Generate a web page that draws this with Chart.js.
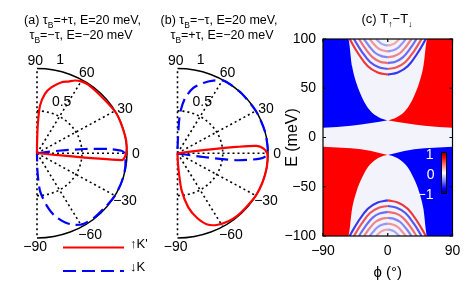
<!DOCTYPE html>
<html>
<head>
<title>Spin-valley transmission</title>
<script src="https://cdn.jsdelivr.net/npm/chart.js"></script>
<style>
  body { margin: 0; background: #fff; }
  #wrap { position: relative; width: 469px; height: 282px; }
  canvas { position: absolute; left: 0; top: 0; }
</style>
</head>
<body>
<div id="wrap">
  <canvas id="polarA" width="469" height="282"></canvas>
  <canvas id="polarB" width="469" height="282"></canvas>
  <canvas id="mapC" width="469" height="282"></canvas>
</div>
<script>
// ---- panel (a): incidence angle (deg) and transmission ----
const aRedTheta  = [-5, -4.9, -1.7, 4, 12, 28, 44, 55, 60, 64, 67.6, 71.9, 78.2, 82.8, 86.6, 88.6, 90, 90];
const aRedR      = [0, 0.944, 0.983, 0.999, 1.0, 1.0, 0.98, 0.99, 0.98, 0.955, 0.915, 0.882, 0.796, 0.706, 0.563, 0.325, 0.09, 0];
const aBlueTheta = [7, 7, 5.4, 3.6, 1.8, -0.5, -10, -20, -30, -40, -50, -58, -63.5, -69, -75, -80, -85.7, -88.6, -90];
const aBlueR     = [0, 0.24, 0.535, 0.794, 0.941, 0.978, 0.995, 1.0, 1.0, 0.99, 0.99, 0.98, 0.945, 0.876, 0.767, 0.63, 0.445, 0.21, 0];

// ---- panel (b) ----
const bRedTheta  = [7.2, 7.2, 6.5, 5.7, 3.4, -0.2, -10, -20, -30, -40, -48, -55, -63, -69, -74.4, -79.4, -84, -86, -88, -90];
const bRedR      = [0, 0.287, 0.658, 0.879, 0.95, 0.992, 1.0, 1.0, 1.0, 0.99, 0.99, 0.98, 0.95, 0.897, 0.787, 0.65, 0.443, 0.243, 0.1, 0];
const bBlueTheta = [-10.6, -10.6, -8.8, -7.2, -4, -1.4, 3.2, 14.7, 30, 45, 53.4, 59.4, 65.2, 71, 77.2, 82.7, 86.6, 88, 89.5, 90];
const bBlueR     = [0, 0.065, 0.288, 0.659, 0.914, 0.986, 0.998, 1.0, 1.0, 1.0, 1.0, 0.995, 0.944, 0.877, 0.79, 0.656, 0.474, 0.254, 0.06, 0];

const spokeAngles = [90, 60, 30, 0, -30, -60, -90];
const angleLabels = ['90', '60', '30', '0', '\u221230', '\u221260', '\u221290'];

// ---- panel (c): T_up - T_down over (phi, E) ----
const phiTicks = [-90, 0, 90];
const eTicks = [-100, -50, 0, 50, 100];
// upper band, E > 0 (top and bottom outline of each coloured region)
const uBlueTopPhi = [-90, -55, -49.5, -43.5, -36.5, -27.5, -16, -2.4, 0];
const uBlueTopE   = [100, 100, 72, 55, 42, 30, 22, 17.7, 17.5];
const uBlueLowPhi = [-90, -51, -23, 0];
const uBlueLowE   = [9.8, 12, 14.7, 17.5];
const uRedTopPhi  = [0, 2.4, 16, 27.5, 36.5, 43.5, 49.5, 55, 90];
const uRedTopE    = [17.5, 17.7, 22, 30, 42, 55, 72, 100, 100];
const uRedLowPhi  = [0, 23, 51, 90];
const uRedLowE    = [17.5, 14.7, 12, 9.8];
// lower band, E < 0
const lRedTopPhi  = [-90, -51, -23, 0];
const lRedTopE    = [-9.3, -11, -13.7, -17.8];
const lRedLowPhi  = [-90, -55, -49.5, -43.5, -36.5, -27.5, -16, -2.4, 0];
const lRedLowE    = [-100, -100, -72, -55, -42, -30, -22, -17.9, -17.8];
const lBlueTopPhi = [0, 23, 51, 90];
const lBlueTopE   = [-17.8, -13.7, -11, -9.3];
const lBlueLowPhi = [0, 2.4, 16, 27.5, 36.5, 43.5, 49.5, 55, 90];
const lBlueLowE   = [-17.8, -17.9, -22, -30, -42, -55, -72, -100, -100];
// interference fringes, |phi| and |E| along each arc (same in the four quadrants)
const arcPhi = [
  [0, 14, 27.7, 41.5, 53],
  [0, 12.4, 24.6, 36.8, 47],
  [0, 10.6, 20.9, 31.3, 40],
  [0, 8.7, 17.3, 25.8, 33],
  [0, 6.6, 13.1, 19.6, 25],
  [0, 4.2, 8.4, 12.5, 16]
];
const arcE = [
  [63.8, 66, 72.3, 85.8, 100],
  [69.5, 71.4, 76.7, 88, 100],
  [75.5, 77, 81.3, 90.4, 100],
  [81.5, 82.6, 85.8, 92.7, 100],
  [87.5, 88.3, 90.4, 95.1, 100],
  [93.5, 93.9, 95, 97.5, 100]
];
const arcAlpha = [0.85, 0.7, 0.6, 0.5, 0.42, 0.35];

const FONT = '"Liberation Sans", Arial, Helvetica, sans-serif';
const RED = '#ff0000';
const BLUE = '#0000ff';

function polarPoints(theta, r) {
  return theta.map((t, i) => ({
    x: r[i] * Math.cos(t * Math.PI / 180),
    y: r[i] * Math.sin(t * Math.PI / 180)
  }));
}

function zip(xs, ys) {
  return xs.map((v, i) => ({ x: v, y: ys[i] }));
}

// text with subscripts: parts = [[text, isSub], ...]
function drawRich(ctx, parts, cx, baseline, size) {
  let w = 0;
  parts.forEach(p => {
    ctx.font = (p[1] ? size * 0.68 : size) + 'px ' + FONT;
    w += ctx.measureText(p[0]).width;
  });
  let x = cx - w / 2;
  ctx.textAlign = 'left';
  ctx.textBaseline = 'alphabetic';
  parts.forEach(p => {
    const s = p[1] ? size * 0.68 : size;
    ctx.font = s + 'px ' + FONT;
    ctx.fillText(p[0], x, baseline + (p[1] ? size * 0.32 : 0));
    x += ctx.measureText(p[0]).width;
  });
}

// polar grid: dotted spokes, dotted r = 0.5, solid r = 1
const polarGrid = {
  id: 'polarGrid',
  beforeDatasetsDraw(chart) {
    const { ctx, scales: { x, y } } = chart;
    const cx = x.getPixelForValue(0), cy = y.getPixelForValue(0);
    const rx = x.getPixelForValue(1) - cx, ry = cy - y.getPixelForValue(1);
    ctx.save();
    ctx.strokeStyle = '#000';
    ctx.lineWidth = 1.6;
    ctx.setLineDash([2, 3]);
    spokeAngles.forEach(a => {
      const t = a * Math.PI / 180;
      ctx.beginPath();
      ctx.moveTo(cx, cy);
      ctx.lineTo(cx + rx * Math.cos(t), cy - ry * Math.sin(t));
      ctx.stroke();
    });
    ctx.beginPath();
    ctx.ellipse(cx, cy, rx * 0.5, ry * 0.5, 0, -Math.PI / 2, Math.PI / 2);
    ctx.stroke();
    ctx.setLineDash([]);
    ctx.lineWidth = 1.5;
    ctx.beginPath();
    ctx.ellipse(cx, cy, rx, ry, 0, -Math.PI / 2, Math.PI / 2);
    ctx.stroke();
    ctx.restore();
  }
};

// label positions in data units
const labelPos = [[-0.02, 1.085], [0.553, 0.94], [0.978, 0.525], [1.1, -0.01], [0.978, -0.56], [0.59, -0.97], [-0.02, -1.105]];

const polarText = {
  id: 'polarText',
  afterDraw(chart, args, opts) {
    const { ctx, scales: { x, y } } = chart;
    ctx.save();
    ctx.fillStyle = '#000';
    ctx.font = '14px ' + FONT;
    ctx.textAlign = 'center';
    ctx.textBaseline = 'middle';
    angleLabels.forEach((s, i) => {
      ctx.fillText(s, x.getPixelForValue(labelPos[i][0]), y.getPixelForValue(labelPos[i][1]));
    });
    ctx.fillText('1', x.getPixelForValue(0.256), y.getPixelForValue(1.095));
    ctx.fillText('0.5', x.getPixelForValue(0.274), y.getPixelForValue(0.6));
    opts.title.forEach((line, i) => drawRich(ctx, line, opts.titleX[i], 23.5 + i * 15, 12.5));
    if (opts.legend) {
      const ds = chart.data.datasets;
      ctx.lineWidth = 2.2;
      [247.5, 271].forEach((ly, i) => {
        ctx.strokeStyle = ds[i].borderColor;
        ctx.setLineDash(ds[i].borderDash || []);
        ctx.beginPath();
        ctx.moveTo(63, ly);
        ctx.lineTo(124, ly);
        ctx.stroke();
        ctx.setLineDash([]);
        ctx.font = '13px ' + FONT;
        ctx.textAlign = 'left';
        ctx.fillText(ds[i].label, 130, ly);
      });
    }
    ctx.restore();
  }
};

function polarChart(id, pad, red, blue, textOpts) {
  return new Chart(document.getElementById(id), {
    type: 'line',
    data: {
      datasets: [
        { label: red.label, data: red.pts, borderColor: RED, borderWidth: 2.2, clip: false },
        { label: blue.label, data: blue.pts, borderColor: BLUE, borderWidth: 2.2, borderDash: [13, 6], clip: false }
      ]
    },
    options: {
      responsive: false,
      animation: false,
      layout: { padding: pad },
      elements: { point: { radius: 0 }, line: { tension: 0.25, fill: false } },
      plugins: { legend: { display: false }, tooltip: { enabled: false }, polarText: textOpts },
      scales: {
        x: { type: 'linear', display: false, min: 0, max: 1 },
        y: { type: 'linear', display: false, min: -1, max: 1 }
      }
    },
    plugins: [polarGrid, polarText]
  });
}

polarChart('polarA', { left: 37, right: 342, top: 68.5, bottom: 44 },
  { label: '\u2191K\'', pts: polarPoints(aRedTheta, aRedR) },
  { label: '\u2193K', pts: polarPoints(aBlueTheta, aBlueR) },
  {
    legend: true,
    titleX: [82.5, 81],
    title: [
      [['(a) \u03c4', 0], ['B', 1], ['=+\u03c4, E=20 meV,', 0]],
      [['\u03c4', 0], ['B', 1], ['=\u2212\u03c4, E=\u221220 meV', 0]]
    ]
  });

polarChart('polarB', { left: 177.5, right: 201, top: 68.5, bottom: 44 },
  { label: '\u2191K\'', pts: polarPoints(bRedTheta, bRedR) },
  { label: '\u2193K', pts: polarPoints(bBlueTheta, bBlueR) },
  {
    legend: false,
    titleX: [219, 222],
    title: [
      [['(b) \u03c4', 0], ['B', 1], ['=\u2212\u03c4, E=20 meV,', 0]],
      [['\u03c4', 0], ['B', 1], ['=+\u03c4, E=\u221220 meV', 0]]
    ]
  });

// ---- panel (c) ----
// a coloured region = its top outline filled down to its bottom outline
function region(topPhi, topE, lowPhi, lowE, color) {
  return [
    { data: zip(topPhi, topE), backgroundColor: color, borderWidth: 0, fill: '+1', cubicInterpolationMode: 'monotone' },
    { data: zip(lowPhi, lowE), borderWidth: 0, fill: false, cubicInterpolationMode: 'monotone' }
  ];
}

const mapSets = [].concat(
  region(uBlueTopPhi, uBlueTopE, uBlueLowPhi, uBlueLowE, BLUE),
  region(uRedTopPhi, uRedTopE, uRedLowPhi, uRedLowE, RED),
  region(lRedTopPhi, lRedTopE, lRedLowPhi, lRedLowE, RED),
  region(lBlueTopPhi, lBlueTopE, lBlueLowPhi, lBlueLowE, BLUE)
);

// quadrant sign and the colour of the innermost arc
const quadrants = [[-1, 1, 'r'], [1, 1, 'b'], [-1, -1, 'b'], [1, -1, 'r']];
quadrants.forEach(([sx, sy, first]) => {
  arcPhi.forEach((ph, k) => {
    const isRed = (k % 2 === 0) === (first === 'r');
    const a = arcAlpha[k];
    mapSets.push({
      data: ph.map((p, i) => ({ x: sx * p, y: sy * arcE[k][i] })),
      borderColor: isRed ? `rgba(235,20,20,${a})` : `rgba(20,20,235,${a})`,
      borderWidth: 2.2,
      tension: 0.4,
      fill: false
    });
  });
});

const mapFrame = {
  id: 'mapFrame',
  beforeDatasetsDraw(chart) {
    const { ctx, chartArea: c } = chart;
    ctx.save();
    ctx.fillStyle = '#f3f3fc';
    ctx.fillRect(c.left, c.top, c.right - c.left, c.bottom - c.top);
    ctx.restore();
  },
  afterDatasetsDraw(chart) {
    const { ctx, chartArea: c, scales: { x, y } } = chart;
    ctx.save();
    // colour bar
    const bx = c.right - 11, by = c.top + 113.5, bw = 5, bh = 41;
    const g = ctx.createLinearGradient(0, by, 0, by + bh);
    g.addColorStop(0, '#700000');
    g.addColorStop(0.12, '#ff0000');
    g.addColorStop(0.5, '#ffffff');
    g.addColorStop(0.88, '#0000ff');
    g.addColorStop(1, '#000070');
    ctx.fillStyle = g;
    ctx.fillRect(bx, by, bw, bh);
    ctx.strokeStyle = '#000';
    ctx.lineWidth = 1;
    ctx.strokeRect(bx, by, bw, bh);
    ctx.fillStyle = '#fff';
    ctx.font = '14px ' + FONT;
    ctx.textAlign = 'right';
    ctx.textBaseline = 'middle';
    ctx.fillText('1', bx - 8, by + 3);
    ctx.fillText('0', bx - 7, by + 22.5);
    ctx.fillText('\u22121', bx - 8, by + 42.5);
    // box and inward ticks
    ctx.strokeStyle = '#000';
    ctx.lineWidth = 1.2;
    ctx.strokeRect(c.left, c.top, c.right - c.left, c.bottom - c.top);
    ctx.beginPath();
    y.ticks.forEach(t => {
      const py = y.getPixelForValue(t.value);
      ctx.moveTo(c.left, py); ctx.lineTo(c.left + 3, py);
      ctx.moveTo(c.right, py); ctx.lineTo(c.right - 3, py);
    });
    x.ticks.forEach(t => {
      const px = x.getPixelForValue(t.value);
      ctx.moveTo(px, c.bottom); ctx.lineTo(px, c.bottom - 3);
      ctx.moveTo(px, c.top); ctx.lineTo(px, c.top + 3);
    });
    ctx.stroke();
    ctx.fillStyle = '#000';
    drawRich(ctx, [['(c) T', 0], ['\u2191', 1], ['\u2212T', 0], ['\u2193', 1]], 387, 22.5, 13);
    ctx.restore();
  }
};

const minus = v => String(v).replace('-', '\u2212');

new Chart(document.getElementById('mapC'), {
  type: 'line',
  data: { datasets: mapSets },
  options: {
    responsive: false,
    animation: false,
    layout: { padding: { left: 280, right: 16.5, top: 39, bottom: 0 } },
    elements: { point: { radius: 0 } },
    plugins: { legend: { display: false }, tooltip: { enabled: false } },
    scales: {
      x: {
        type: 'linear', min: -90, max: 90,
        afterFit: s => { s.height = 46; },
        afterBuildTicks: s => { s.ticks = phiTicks.map(v => ({ value: v })); },
        grid: { display: false, drawTicks: false },
        border: { display: false },
        ticks: { padding: 7, color: '#000', font: { family: FONT, size: 14 }, maxRotation: 0, autoSkip: false, callback: minus },
        title: { display: true, text: '\u03d5 (\u00b0)', color: '#000', font: { family: FONT, size: 15 }, padding: { top: 0, bottom: 0 } }
      },
      y: {
        type: 'linear', min: -100, max: 100,
        afterFit: s => { s.width = 43; },
        afterBuildTicks: s => { s.ticks = eTicks.map(v => ({ value: v })); },
        grid: { display: false, drawTicks: false },
        border: { display: false },
        ticks: { padding: 7, color: '#000', font: { family: FONT, size: 14 }, autoSkip: false, callback: minus },
        title: { display: true, text: 'E (meV)', color: '#000', font: { family: FONT, size: 16 }, padding: { top: 3, bottom: 0 } }
      }
    }
  },
  plugins: [mapFrame]
});
</script>
</body>
</html>
